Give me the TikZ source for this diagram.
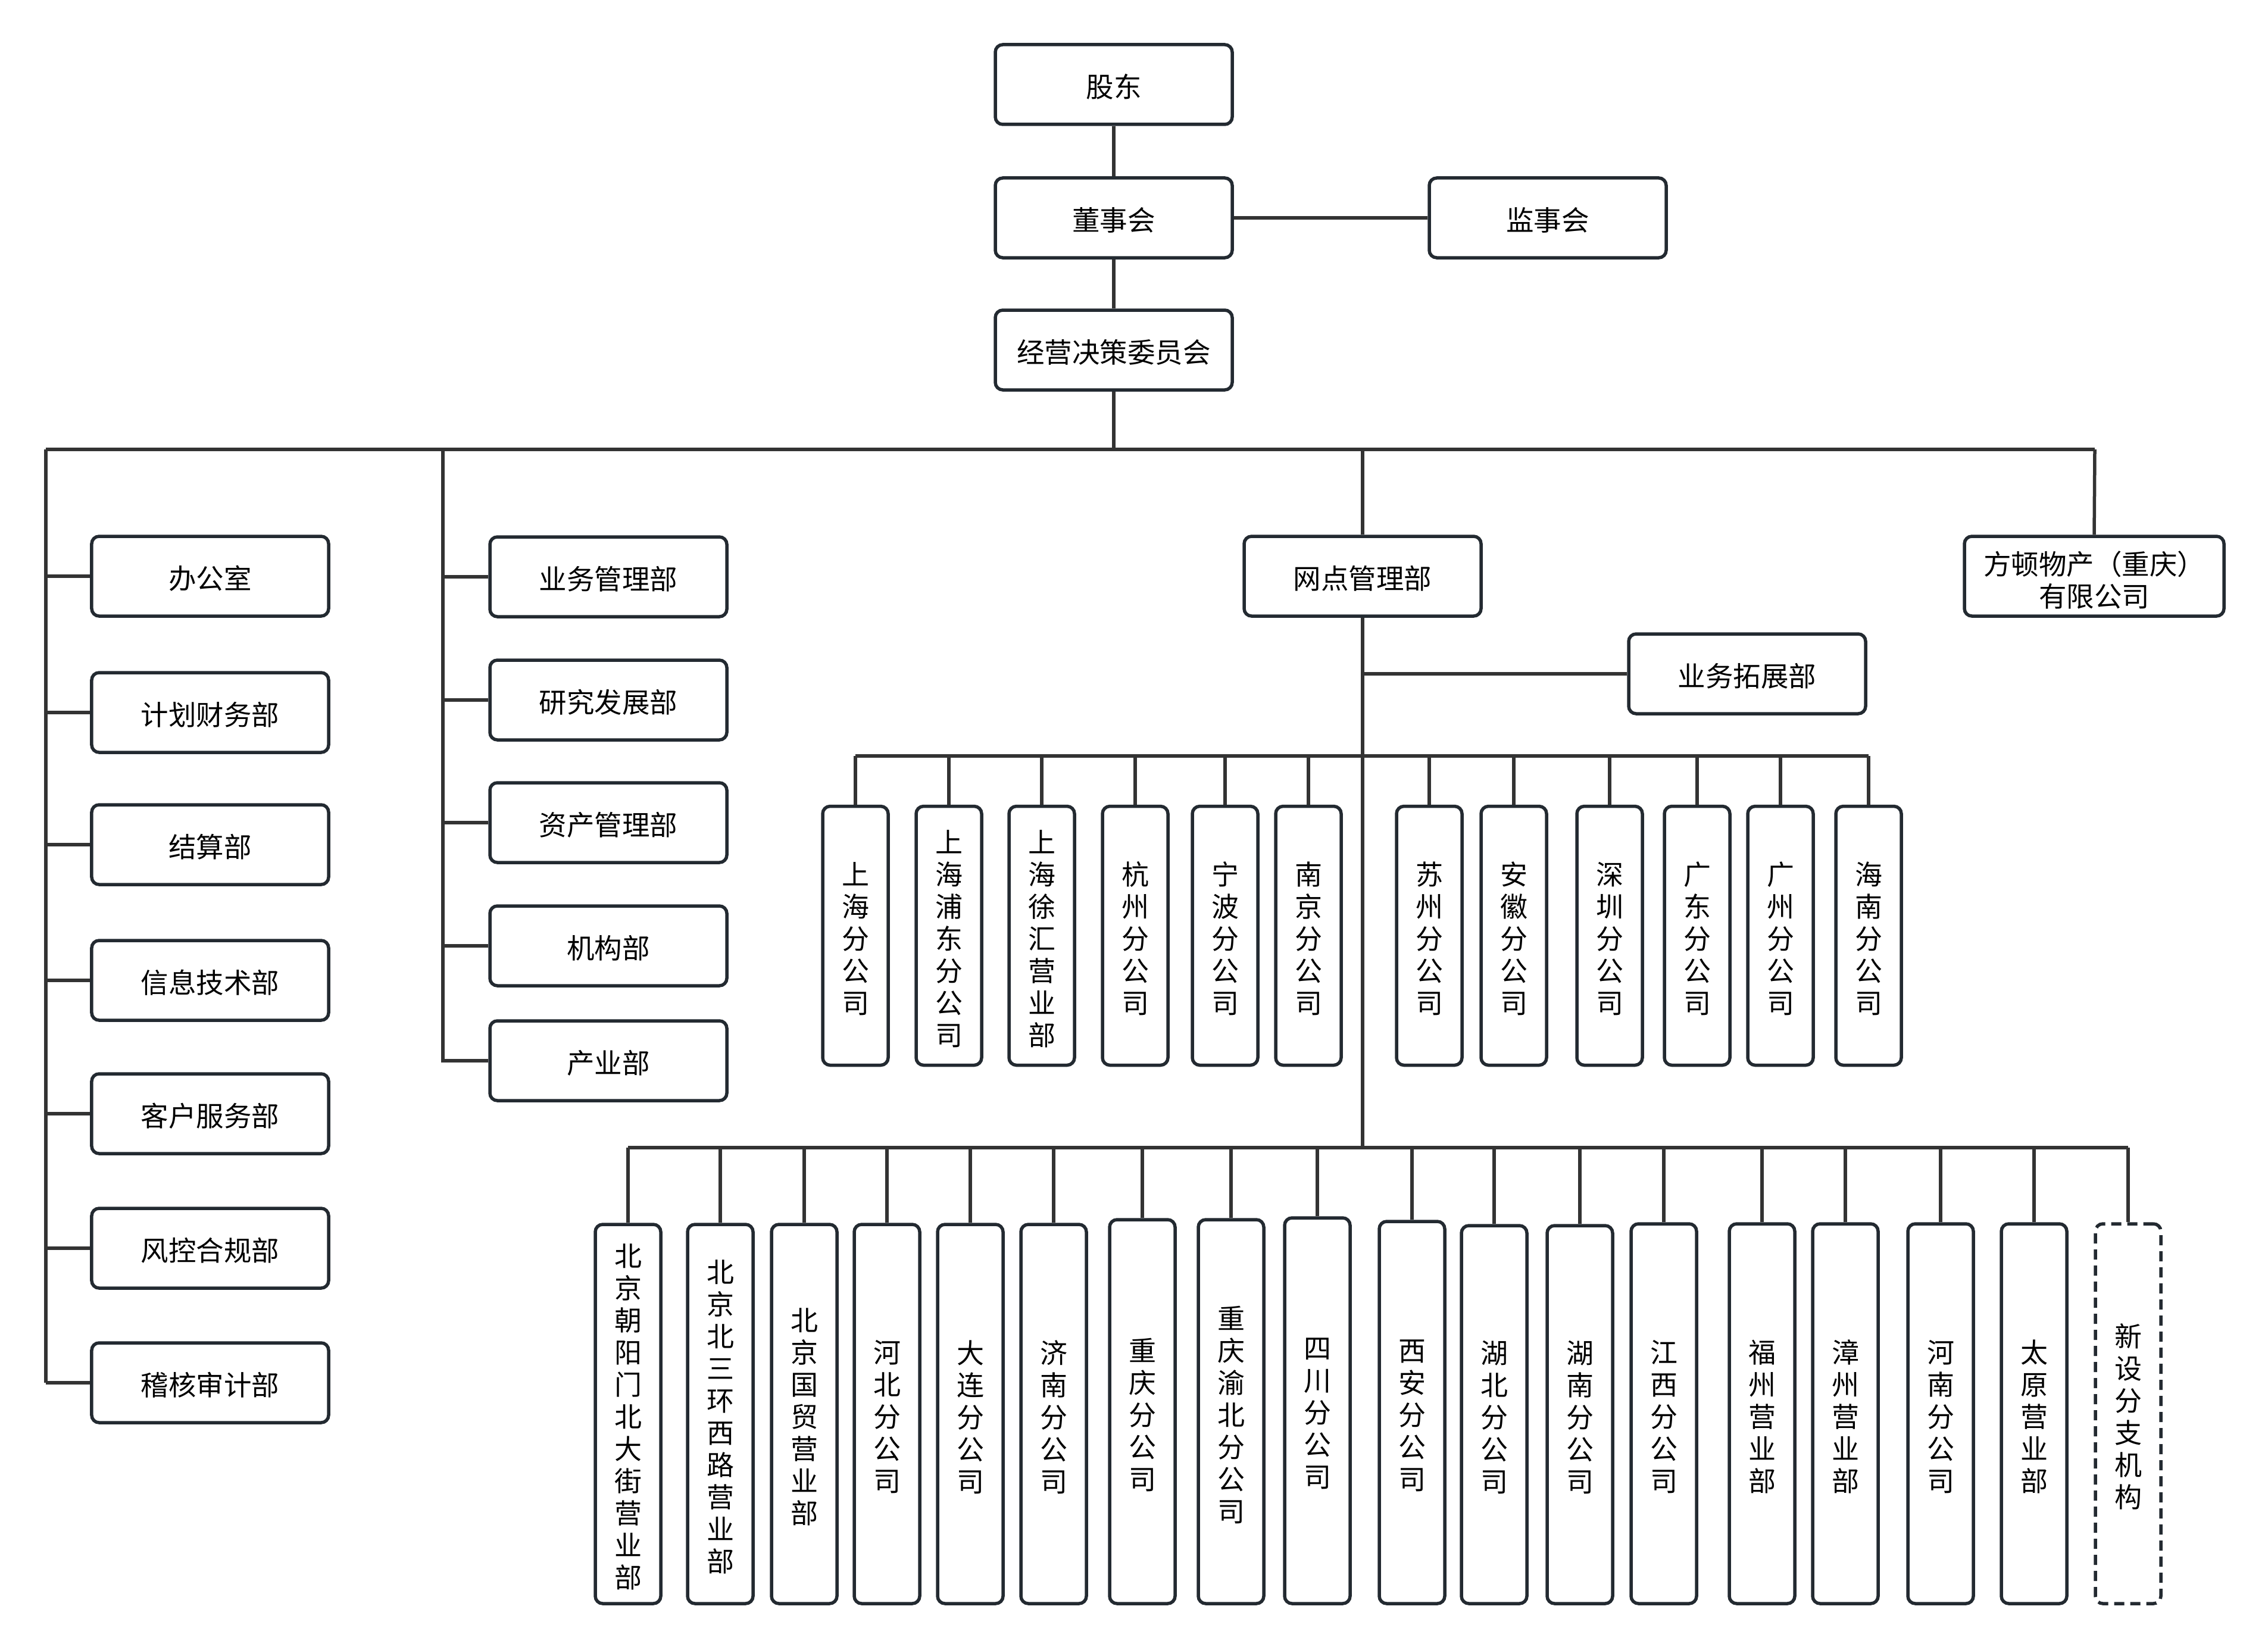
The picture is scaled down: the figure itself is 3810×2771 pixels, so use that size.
\documentclass[tikz,border=0pt]{standalone}
\usepackage{fontspec}
\setmainfont{Noto Sans CJK SC}
\definecolor{boxcol}{HTML}{232A31}
\definecolor{lncol}{HTML}{333333}
\newcommand\hl[1]{\raisebox{-0.8pt}[\height][\depth]{#1}}
\newcommand\vl[1]{\raisebox{-1pt}[\height][\depth]{\parbox[c]{1.2em}{\centering #1}}}
\tikzset{
  ln/.style={draw=lncol, line width=1.1pt},
  hb/.style={draw=boxcol, line width=1.1pt, rounded corners=2.5pt, fill=white,
    minimum width=79.6pt, minimum height=26.8pt, inner sep=0pt,
    font=\fontsize{9.3}{10.8}\selectfont},
  vb/.style={draw=boxcol, line width=1.1pt, rounded corners=2.5pt, fill=white,
    minimum width=22pt, inner sep=0pt,
    font=\fontsize{9.2}{10.8}\selectfont},
  dashbox/.style={vb, dash pattern=on 3.4pt off 2pt}
}
\begin{document}
\begin{tikzpicture}[x=0.2pt,y=-0.2pt]
\useasboundingbox (0,0) rectangle (3810,2771);

% top
\node[hb] (gd) at (1871,142) {\hl{股东}};
\node[hb] (dsh) at (1871,366) {\hl{董事会}};
\node[hb] (jsh) at (2600,366) {\hl{监事会}};
\node[hb] (jy) at (1871,588) {\hl{经营决策委员会}};
\coordinate (bus1) at (1871,755);
\coordinate (busL) at (77,755);
\coordinate (busR) at (3519,755);
\draw[ln] (gd) -- (dsh);
\draw[ln] (dsh) -- (jsh);
\draw[ln] (dsh) -- (jy);
\draw[ln] (jy.south) -- (bus1);
\draw[ln] (busL) -- (busR);

% left column
\node[hb] (bgs) at (353,968) {\hl{办公室}};
\node[hb] (jhcw) at (353,1197) {\hl{计划财务部}};
\node[hb] (js) at (353,1419) {\hl{结算部}};
\node[hb] (xxjs) at (353,1647) {\hl{信息技术部}};
\node[hb] (khfw) at (353,1871) {\hl{客户服务部}};
\node[hb] (fkhg) at (353,2097) {\hl{风控合规部}};
\node[hb] (jhsj) at (353,2323) {\hl{稽核审计部}};
\coordinate (lcol) at (77,2323);
\draw[ln] (busL) -- (lcol);
\foreach \n in {bgs,jhcw,js,xxjs,khfw,fkhg,jhsj}
  \draw[ln] (\n.west) -- (\n.west -| busL);

% second column
\node[hb] (ywgl) at (1022,969) {\hl{业务管理部}};
\node[hb] (yjfz) at (1022,1176) {\hl{研究发展部}};
\node[hb] (zcgl) at (1022,1382) {\hl{资产管理部}};
\node[hb] (jgb) at (1022,1589) {\hl{机构部}};
\node[hb] (cyb) at (1022,1782) {\hl{产业部}};
\coordinate (c2top) at (744,755);
\coordinate (c2bot) at (744,1785);
\draw[ln] (c2top) -- (c2bot);
\foreach \n in {ywgl,yjfz,zcgl,jgb,cyb}
  \draw[ln] (\n.west) -- (\n.west -| c2top);

% network management
\node[hb] (wdgl) at (2289,968) {\hl{网点管理部}};
\node[hb] (ywtz) at (2935,1132) {\hl{业务拓展部}};
\node[hb, minimum width=87.2pt] (fd) at (3518,968)
  {\raisebox{-1.2pt}[\height][\depth]{\parbox[c]{84pt}{\centering 方顿物产（重庆）\\有限公司}}};
\coordinate (bus2) at (2289,1270);
\coordinate (bus3) at (2289,1928);
\draw[ln] (wdgl.north) -- (wdgl.north |- bus1);
\draw[ln] (wdgl.south) -- (bus3);
\draw[ln] (ywtz.west) -- (ywtz.west -| bus2);
\draw[ln] (fd.north) -- (busR);

% middle row
\foreach \n/\x/\t in {
  m1/1437/{上\\海\\分\\公\\司},
  m2/1594/{上\\海\\浦\\东\\分\\公\\司},
  m3/1750/{上\\海\\徐\\汇\\营\\业\\部},
  m4/1907/{杭\\州\\分\\公\\司},
  m5/2058/{宁\\波\\分\\公\\司},
  m6/2198/{南\\京\\分\\公\\司},
  m7/2401/{苏\\州\\分\\公\\司},
  m8/2543/{安\\徽\\分\\公\\司},
  m9/2704/{深\\圳\\分\\公\\司},
  m10/2851/{广\\东\\分\\公\\司},
  m11/2991/{广\\州\\分\\公\\司},
  m12/3139/{海\\南\\分\\公\\司}}
  {\node[vb, minimum height=87pt] (\n) at (\x,1572) {\vl{\t}};
   \draw[ln] (\n.north) -- (\n.north |- bus2);}
\draw[ln] (m1.north |- bus2) -- (m12.north |- bus2);

% bottom row
\foreach \n/\x/\y/\h/\t in {
  b1/1055/2375.5/127.4/{北\\京\\朝\\阳\\门\\北\\大\\街\\营\\业\\部},
  b2/1210/2375.5/127.4/{北\\京\\北\\三\\环\\西\\路\\营\\业\\部},
  b3/1351/2375.5/127.4/{北\\京\\国\\贸\\营\\业\\部},
  b4/1490/2375.5/127.4/{河\\北\\分\\公\\司},
  b5/1630/2375.5/127.4/{大\\连\\分\\公\\司},
  b6/1770/2375.5/127.4/{济\\南\\分\\公\\司},
  b7/1919/2371.5/129/{重\\庆\\分\\公\\司},
  b8/2068/2371.5/129/{重\\庆\\渝\\北\\分\\公\\司},
  b9/2213/2370/129.6/{四\\川\\分\\公\\司},
  b10/2372/2373/128.4/{西\\安\\分\\公\\司},
  b11/2510/2376.5/127/{湖\\北\\分\\公\\司},
  b12/2654/2376.5/127/{湖\\南\\分\\公\\司},
  b13/2795/2375/127.6/{江\\西\\分\\公\\司},
  b14/2960/2375/127.6/{福\\州\\营\\业\\部},
  b15/3100/2375/127.6/{漳\\州\\营\\业\\部},
  b16/3260/2375/127.6/{河\\南\\分\\公\\司},
  b17/3417/2375/127.6/{太\\原\\营\\业\\部}}
  {\node[vb, minimum height=\h pt] (\n) at (\x,\y) {\vl{\t}};
   \draw[ln] (\n.north) -- (\n.north |- bus3);}
\node[dashbox, minimum height=127.6pt] (b18) at (3575,2375) {\vl{新\\设\\分\\支\\机\\构}};
\draw[ln] (b18.north) -- (b18.north |- bus3);
\draw[ln] (b1.north |- bus3) -- (b18.north |- bus3);
\end{tikzpicture}
\end{document}
